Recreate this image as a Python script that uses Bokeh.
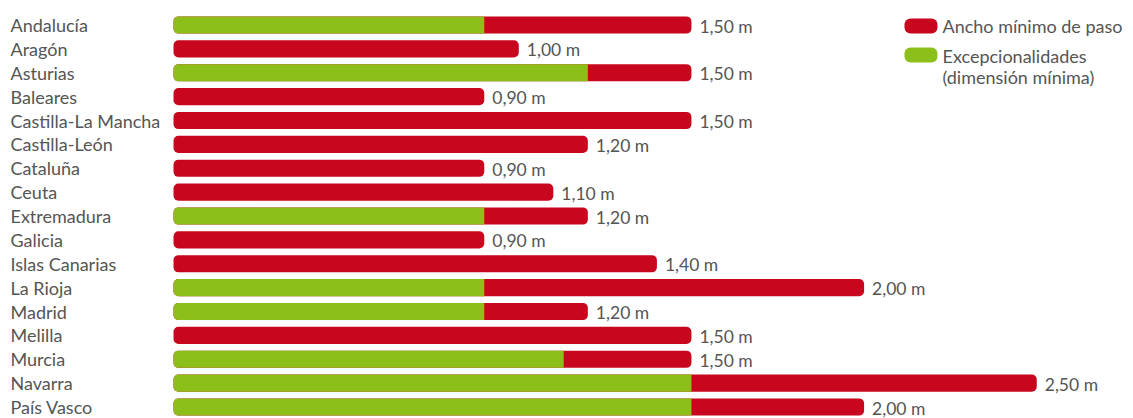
from bokeh.plotting import figure
from bokeh.models import Range1d, ColumnDataSource
from bokeh.core.properties import value
from bokeh.embed import file_html
from bokeh.resources import INLINE

# Minimum passage width per autonomous community (metres)
regions = ["Andalucía", "Aragón", "Asturias", "Baleares", "Castilla-La Mancha",
           "Castilla-León", "Cataluña", "Ceuta", "Extremadura", "Galicia",
           "Islas Canarias", "La Rioja", "Madrid", "Melilla", "Murcia",
           "Navarra", "País Vasco"]
ancho_minimo = [1.50, 1.00, 1.50, 0.90, 1.50, 1.20, 0.90, 1.10, 1.20, 0.90,
                1.40, 2.00, 1.20, 1.50, 1.50, 2.50, 2.00]
# Exceptional minimum dimension (None where no exception applies)
excepcionalidades = [0.90, None, 1.20, None, None, None, None, None, 0.90, None,
                     None, 0.90, 0.90, None, 1.13, 1.50, 1.50]
legend_labels = ["Ancho mínimo de paso", "Excepcionalidades", "(dimensión mínima)"]

RED = "#c8071e"
GREEN = "#8cbf1a"
TEXT = "#555555"
FONT = value("Lato")

W, H = 1133, 418
PX_PER_M = 345.3      # horizontal scale
X0 = 173              # pixel where bars start
ROW = 23.875          # row pitch in pixels
TOP = 24.5            # centre of first row from top

n = len(regions)
ys = [n - 1 - i for i in range(n)]

x_start = -X0 / PX_PER_M
x_end = (W - X0) / PX_PER_M
y_end = (n - 1) + TOP / ROW
y_start = y_end - H / ROW


def px_x(px):
    return x_start + px / PX_PER_M


def px_y(py):
    return y_end - py / ROW


p = figure(width=W, height=H, output_backend="svg", toolbar_location=None,
           x_range=Range1d(x_start, x_end), y_range=Range1d(y_start, y_end),
           min_border=0, background_fill_color="white", border_fill_color="white")
p.axis.visible = False
p.grid.visible = False
p.outline_line_color = None

bars = ColumnDataSource(dict(
    y=ys, right=ancho_minimo,
    label=[f"{v:.2f} m".replace(".", ",") for v in ancho_minimo],
    region=regions,
))
p.hbar(y="y", left=0, right="right", height=0.72, source=bars,
       fill_color=RED, line_color=None, border_radius=5)

exc_y = [y for y, e in zip(ys, excepcionalidades) if e is not None]
exc_v = [e for e in excepcionalidades if e is not None]
p.hbar(y=exc_y, left=0, right=exc_v, height=0.72,
       fill_color=GREEN, line_color=None, border_radius=(5, 0, 0, 5))

# value labels at bar ends
p.text(x="right", y="y", text="label", source=bars, x_offset=8, y_offset=1,
       text_baseline="middle", text_align="left", text_font=FONT,
       text_font_size="17.5px", text_color=TEXT)

# region names on the left
p.text(x=px_x(10), y="y", text="region", source=bars, y_offset=0,
       text_baseline="middle", text_align="left", text_font=FONT,
       text_font_size="18px", text_color=TEXT)

# legend
p.rect(x=[px_x(920.5)] * 2, y=[px_y(25.5), px_y(54.5)], width=33, height=15,
       width_units="screen", height_units="screen",
       fill_color=[RED, GREEN], line_color=None, border_radius=6)
p.text(x=[px_x(942)] * 3, y=[px_y(25), px_y(55), px_y(76)], text=legend_labels,
       text_baseline="middle", text_align="left", text_font=FONT,
       text_font_size="18px", text_color=TEXT)

open("out.html", "w").write(file_html(p, INLINE))
